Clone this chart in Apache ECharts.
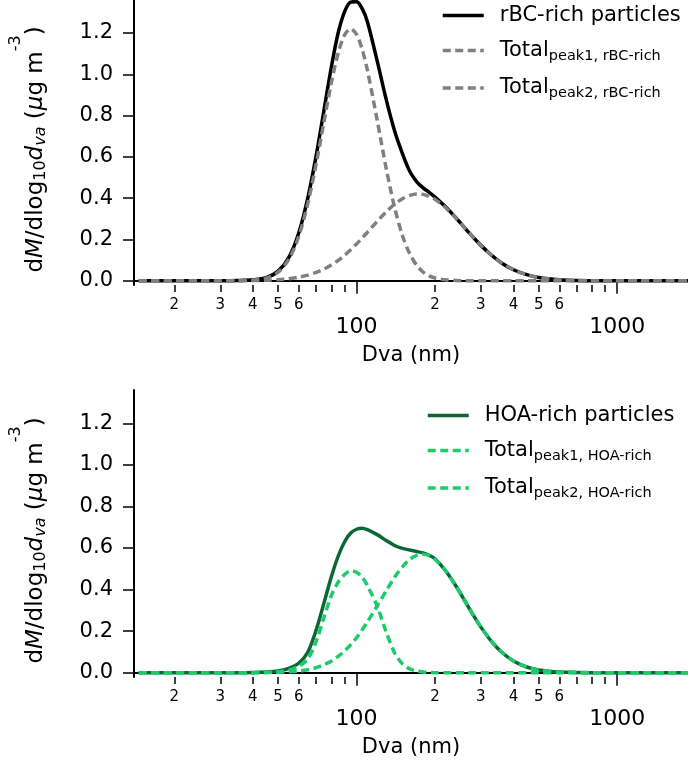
<!DOCTYPE html>
<html><head><meta charset="utf-8">
<script src="https://cdn.jsdelivr.net/npm/echarts@6/dist/echarts.min.js"></script>
<style>html,body{margin:0;padding:0;background:#fff}#c{width:688px;height:764px}</style>
</head><body><div id="c"></div>
<script>
// Diameter (nm) grid
const diameters = [14.6, 20, 25, 30, 35, 40, 45, 50, 55, 60, 65, 70, 75, 80, 85, 90, 95, 100, 105, 110, 120, 130, 140, 150, 160, 170, 180, 190, 200, 220, 240, 260, 280, 300, 330, 360, 400, 450, 500, 600, 700, 800, 1000, 1300, 1870];
// Top panel: rBC-rich particles
const rbcTotal = [0,0,0,0,0.001,0.004,0.014,0.046,0.113,0.231,0.400,0.606,0.826,1.033,1.200,1.304,1.350,1.352,1.319,1.256,1.065,0.877,0.725,0.616,0.530,0.480,0.450,0.428,0.405,0.357,0.306,0.256,0.211,0.171,0.123,0.086,0.053,0.029,0.015,0.004,0.001,0,0,0,0];
const rbcPeak1 = [0,0,0,0,0.000,0.003,0.012,0.041,0.104,0.214,0.373,0.566,0.770,0.957,1.102,1.191,1.220,1.194,1.123,1.022,0.778,0.543,0.354,0.219,0.130,0.075,0.042,0.023,0.013,0.004,0.001,0,0,0,0,0,0,0,0,0,0,0,0,0,0];
const rbcPeak2 = [0,0,0,0,0,0.001,0.002,0.005,0.009,0.017,0.027,0.040,0.056,0.076,0.098,0.123,0.150,0.178,0.206,0.234,0.287,0.334,0.371,0.397,0.413,0.420,0.418,0.408,0.394,0.353,0.305,0.256,0.211,0.171,0.123,0.086,0.053,0.029,0.015,0.004,0.001,0,0,0,0];
// Bottom panel: HOA-rich particles
const hoaTotal = [0,0,0,0,0.000,0.001,0.003,0.008,0.020,0.045,0.098,0.205,0.335,0.460,0.560,0.630,0.672,0.690,0.695,0.688,0.664,0.636,0.612,0.598,0.590,0.583,0.576,0.565,0.548,0.489,0.419,0.346,0.278,0.219,0.149,0.099,0.056,0.027,0.013,0.003,0.001,0,0,0,0];
const hoaPeak1 = [0,0,0,0,0,0.000,0.001,0.004,0.012,0.030,0.065,0.150,0.265,0.370,0.435,0.472,0.489,0.483,0.460,0.420,0.320,0.195,0.095,0.042,0.018,0.008,0.003,0.001,0,0,0,0,0,0,0,0,0,0,0,0,0,0,0,0,0];
const hoaPeak2 = [0,0,0,0,0.000,0.000,0.001,0.002,0.004,0.008,0.014,0.024,0.038,0.055,0.078,0.104,0.135,0.168,0.205,0.243,0.321,0.394,0.459,0.509,0.545,0.564,0.570,0.563,0.546,0.489,0.419,0.346,0.278,0.219,0.149,0.099,0.056,0.027,0.013,0.003,0.001,0,0,0,0];
// Axis ticks / labels
const minorTickValues = [20,30,40,50,60,70,80,90,200,300,400,500,600,700,800,900];
const minorLabelValues = [20,30,40,50,60,200,300,400,500,600];
const majorTickValues = [100,1000];
const yTickValues = [0,0.2,0.4,0.6,0.8,1.0,1.2];
const seriesNamesTop = ['rBC-rich particles','Total_peak1_rBC','Total_peak2_rBC'];
const seriesNamesBottom = ['HOA-rich particles','Total_peak1_HOA','Total_peak2_HOA'];

const FONT = 'DejaVu Sans';
const pairs = arr => diameters.map((d, i) => [d, arr[i]]);

const grids = [
  {left: 133, right: 0, top: 0, height: 285},
  {left: 133, right: 0, top: 390, height: 287}
];

function xAxesFor(g) {
  return [
    {
      gridIndex: g, type: 'log', logBase: 10, min: 14, max: 1870, position: 'bottom',
      axisLine: {show: true, lineStyle: {color: '#000', width: 2}},
      axisTick: {show: true, customValues: majorTickValues, length: 13, lineStyle: {color: '#000', width: 1.5}},
      axisLabel: {customValues: majorTickValues, formatter: v => String(Math.round(v)), fontSize: 22, margin: 31, color: '#000', fontFamily: FONT},
      splitLine: {show: false},
      name: 'Dva (nm)', nameLocation: 'middle', nameGap: 60,
      nameTextStyle: {fontSize: 21, color: '#000', fontFamily: FONT}
    },
    {
      gridIndex: g, type: 'log', logBase: 10, min: 14, max: 1870, position: 'bottom',
      axisLine: {show: false},
      axisTick: {show: true, customValues: minorTickValues, length: 7, lineStyle: {color: '#000', width: 1.5}},
      axisLabel: {customValues: minorLabelValues, formatter: v => String(Math.round(v / Math.pow(10, Math.floor(Math.log10(v) + 1e-9)))), fontSize: 15, margin: 13, color: '#000', fontFamily: FONT},
      splitLine: {show: false}
    }
  ];
}

const yNameRich = {
  t: {fontSize: 23, lineHeight: 56, fontFamily: FONT, color: '#000'},
  i: {fontSize: 23, lineHeight: 56, fontStyle: 'italic', fontFamily: FONT, color: '#000'},
  sub: {fontSize: 16, padding: [9, 0, 0, 0], fontFamily: FONT, color: '#000'},
  isub: {fontSize: 16, padding: [9, 0, 0, 0], fontStyle: 'italic', fontFamily: FONT, color: '#000'},
  sup: {fontSize: 16, lineHeight: 16, verticalAlign: 'top', fontFamily: FONT, color: '#000'}
};
const yName = '{t|d}{i|M}{t|/dlog}{sub|10}{i|d}{isub|va}{t| (}{i|μ}{t|g m}{sup|-3}{t|)}';

function yAxisFor(g) {
  return {
    gridIndex: g, type: 'value', min: -0.021, max: 1.36,
    axisLine: {show: true, lineStyle: {color: '#000', width: 2}},
    axisTick: {show: true, customValues: yTickValues, length: 11, lineStyle: {color: '#000', width: 1.5}},
    axisLabel: {customValues: yTickValues, formatter: v => v.toFixed(1), fontSize: 21, margin: 21, color: '#000', fontFamily: FONT},
    splitLine: {show: false},
    name: yName, nameLocation: 'middle', nameGap: 70, nameRotate: 90,
    nameTextStyle: {rich: yNameRich, fontFamily: FONT, padding: [0, 14, 0, 0]}
  };
}

const legendLabels = {
  'rBC-rich particles': '{f|rBC-rich particles}',
  'Total_peak1_rBC': '{f|Total}{s|peak1, rBC-rich}',
  'Total_peak2_rBC': '{f|Total}{s|peak2, rBC-rich}',
  'HOA-rich particles': '{f|HOA-rich particles}',
  'Total_peak1_HOA': '{f|Total}{s|peak1, HOA-rich}',
  'Total_peak2_HOA': '{f|Total}{s|peak2, HOA-rich}'
};
const legendRich = {
  f: {fontSize: 21, lineHeight: 26, padding: [0, 0, 0, 11], fontFamily: FONT, color: '#000'},
  s: {fontSize: 14.5, lineHeight: 15, verticalAlign: 'bottom', fontFamily: FONT, color: '#000'}
};
function legendFor(names, left, top) {
  return {
    data: names, orient: 'vertical', left: left, top: top, padding: 0,
    itemWidth: 41, itemHeight: 14, itemGap: 14, selectedMode: false,
    lineStyle: {width: 3.5},
    itemStyle: {color: 'rgba(0,0,0,0)', borderColor: 'rgba(0,0,0,0)', borderWidth: 0, opacity: 0},
    formatter: n => legendLabels[n],
    textStyle: {rich: legendRich, fontFamily: FONT, color: '#000'}
  };
}

function lineSeries(name, data, xi, yi, color, dashed) {
  return {
    name: name, type: 'line', xAxisIndex: xi, yAxisIndex: yi, data: pairs(data),
    symbol: 'none', smooth: 0.3, silent: true,
    lineStyle: {color: color, width: 3.5, type: dashed ? [8, 4.5] : 'solid', cap: 'butt'},
    itemStyle: {color: color}
  };
}

const option = {
  animation: false,
  backgroundColor: '#fff',
  grid: grids,
  xAxis: [...xAxesFor(0), ...xAxesFor(1)],
  yAxis: [yAxisFor(0), yAxisFor(1)],
  legend: [legendFor(seriesNamesTop, 441, 5), legendFor(seriesNamesBottom, 426, 405)],
  series: [
    lineSeries(seriesNamesTop[0], rbcTotal, 0, 0, '#000000', false),
    lineSeries(seriesNamesTop[1], rbcPeak1, 0, 0, '#808080', true),
    lineSeries(seriesNamesTop[2], rbcPeak2, 0, 0, '#808080', true),
    lineSeries(seriesNamesBottom[0], hoaTotal, 2, 1, '#0a6836', false),
    lineSeries(seriesNamesBottom[1], hoaPeak1, 2, 1, '#1ccc6a', true),
    lineSeries(seriesNamesBottom[2], hoaPeak2, 2, 1, '#1ccc6a', true)
  ]
};
const chart = echarts.init(document.getElementById('c'), null, {renderer: 'canvas'});
chart.setOption(option);
</script></body></html>
